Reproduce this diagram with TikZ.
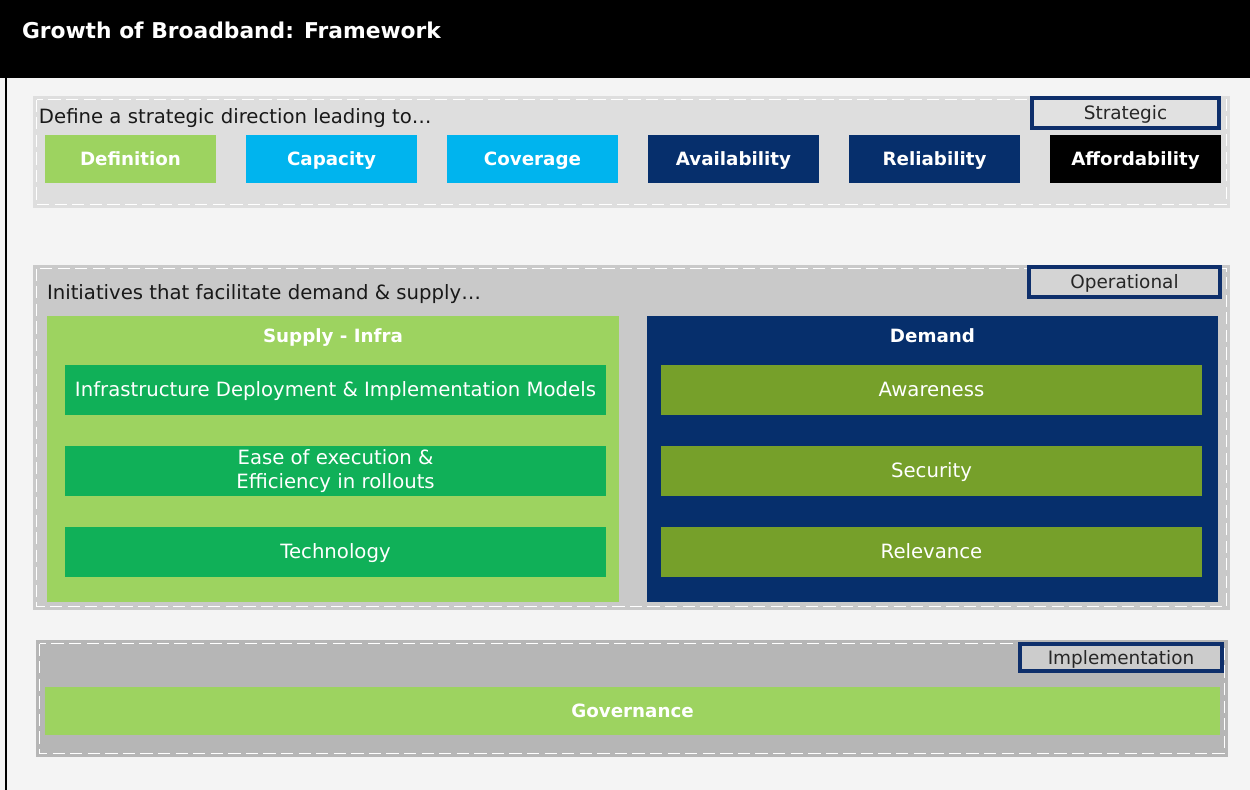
\documentclass[tikz,border=0pt]{standalone}
\usepackage{fontspec}
\setmainfont{DejaVu Sans}
\usetikzlibrary{positioning}

\definecolor{bodybg}{HTML}{F4F4F4}
\definecolor{stratgray}{HTML}{DEDEDE}
\definecolor{opergray}{HTML}{C9C9C9}
\definecolor{implgray}{HTML}{B6B6B6}
\definecolor{tagblue}{HTML}{0E2F6B}
\definecolor{lgreen}{HTML}{9DD360}
\definecolor{skyblue}{HTML}{00B4EE}
\definecolor{navy}{HTML}{062F6C}
\definecolor{midgreen}{HTML}{10B058}
\definecolor{olive}{HTML}{76A02A}

\begin{document}
\begin{tikzpicture}[
    every node/.style={inner sep=0, outer sep=0},
    panel/.style={anchor=north west},
    edge/.style={draw=white, dash pattern=on 7pt off 3pt, line width=1.1pt},
    oneline/.style={text height=0.78em, text depth=0.02em},
    box/.style={anchor=north west, minimum width=3.42cm, minimum height=0.96cm, oneline,
        text=white, font=\fontsize{10.4}{12}\selectfont\bfseries},
    item/.style={anchor=north west, minimum width=10.82cm, minimum height=1cm,
        text=white, align=center, font=\fontsize{11.2}{13.4}\selectfont},
    tag/.style={draw=tagblue, line width=1.8pt, minimum height=0.6cm, oneline,
        text=black!85, font=\fontsize{10.5}{12}\selectfont},
    head/.style={text=white, oneline, font=\fontsize{10.4}{12}\selectfont\bfseries},
    lead/.style={anchor=west, text=black!90, font=\fontsize{11.2}{13}\selectfont}
]
    \useasboundingbox (0, 0) rectangle (25, -15.8);
    \fill[bodybg] (0, -1.56) rectangle (25, -15.8);
    \draw[black, line width=1pt] (0.12, -1.56) -- (0.12, -15.8);

    \node[panel, fill=black, minimum width=25cm, minimum height=1.56cm](top) at (0, 0) {};
    \node[anchor=west, text=white, font=\fontsize{12.4}{14}\selectfont\bfseries](title)
    at (0.44, -0.6) {Growth of Broadband: Framework};

    % strategic
    \node[panel, fill=stratgray, minimum width=23.94cm, minimum height=2.24cm](strat)
    at (0.66, -1.92) {};
    \draw[edge] ([shift={(2pt, -2pt)}]strat.north west)
    rectangle ([shift={(-2pt, 2pt)}]strat.south east);
    \node[lead](stratlead) at (0.78, -2.36) {Define a strategic direction leading to\dots};
    \node[tag, fill=stratgray!90!white, minimum width=3.74cm](strattag)
    at (22.51, -2.26) {Strategic};

    \node[box, fill=lgreen](defn) at (0.9, -2.7) {Definition};
    \node[box, fill=skyblue, right=0.6cm of defn](capa) {Capacity};
    \node[box, fill=skyblue, right=0.6cm of capa](cove) {Coverage};
    \node[box, fill=navy, right=0.6cm of cove](avai) {Availability};
    \node[box, fill=navy, right=0.6cm of avai](reli) {Reliability};
    \node[box, fill=black, right=0.6cm of reli](affo) {Affordability};

    % operational
    \node[panel, fill=opergray, minimum width=23.94cm, minimum height=6.9cm](oper)
    at (0.66, -5.3) {};
    \draw[edge] ([shift={(2pt, -2pt)}]oper.north west)
    rectangle ([shift={(-2pt, 2pt)}]oper.south east);
    \node[lead](operlead) at (0.94, -5.88) {Initiatives that facilitate demand \& supply\dots};
    \node[tag, fill=opergray!80!white, minimum width=3.82cm](opertag)
    at (22.49, -5.64) {Operational};

    \node[panel, fill=lgreen, minimum width=11.44cm, minimum height=5.72cm](supply)
    at (0.94, -6.32) {};
    \node[head](suphead) at ([yshift=-0.4cm]supply.north) {Supply - Infra};
    \node[item, oneline, fill=midgreen](infra) at (1.3, -7.3)
    {Infrastructure Deployment \& Implementation Models};
    \node[item, fill=midgreen, below=0.62cm of infra](ease)
    {Ease of execution \&\\Efficiency in rollouts};
    \node[item, oneline, fill=midgreen, below=0.62cm of ease](tech) {Technology};

    \node[panel, fill=navy, minimum width=11.42cm, minimum height=5.72cm](demand)
    at (12.94, -6.32) {};
    \node[head](demhead) at ([yshift=-0.4cm]demand.north) {Demand};
    \node[item, oneline, fill=olive](aware) at (13.22, -7.3) {Awareness};
    \node[item, oneline, fill=olive, below=0.62cm of aware](secu) {Security};
    \node[item, oneline, fill=olive, below=0.62cm of secu](rele) {Relevance};

    % implementation
    \node[panel, fill=implgray, minimum width=23.84cm, minimum height=2.34cm](impl)
    at (0.72, -12.8) {};
    \draw[edge] ([shift={(2pt, -2pt)}]impl.north west)
    rectangle ([shift={(-2pt, 2pt)}]impl.south east);
    \node[tag, fill=implgray!70!white, minimum width=4.04cm, minimum height=0.54cm](impltag)
    at (22.42, -13.15) {Implementation};
    \node[box, fill=lgreen, minimum width=23.5cm](gove) at (0.9, -13.74) {Governance};
\end{tikzpicture}
\end{document}
